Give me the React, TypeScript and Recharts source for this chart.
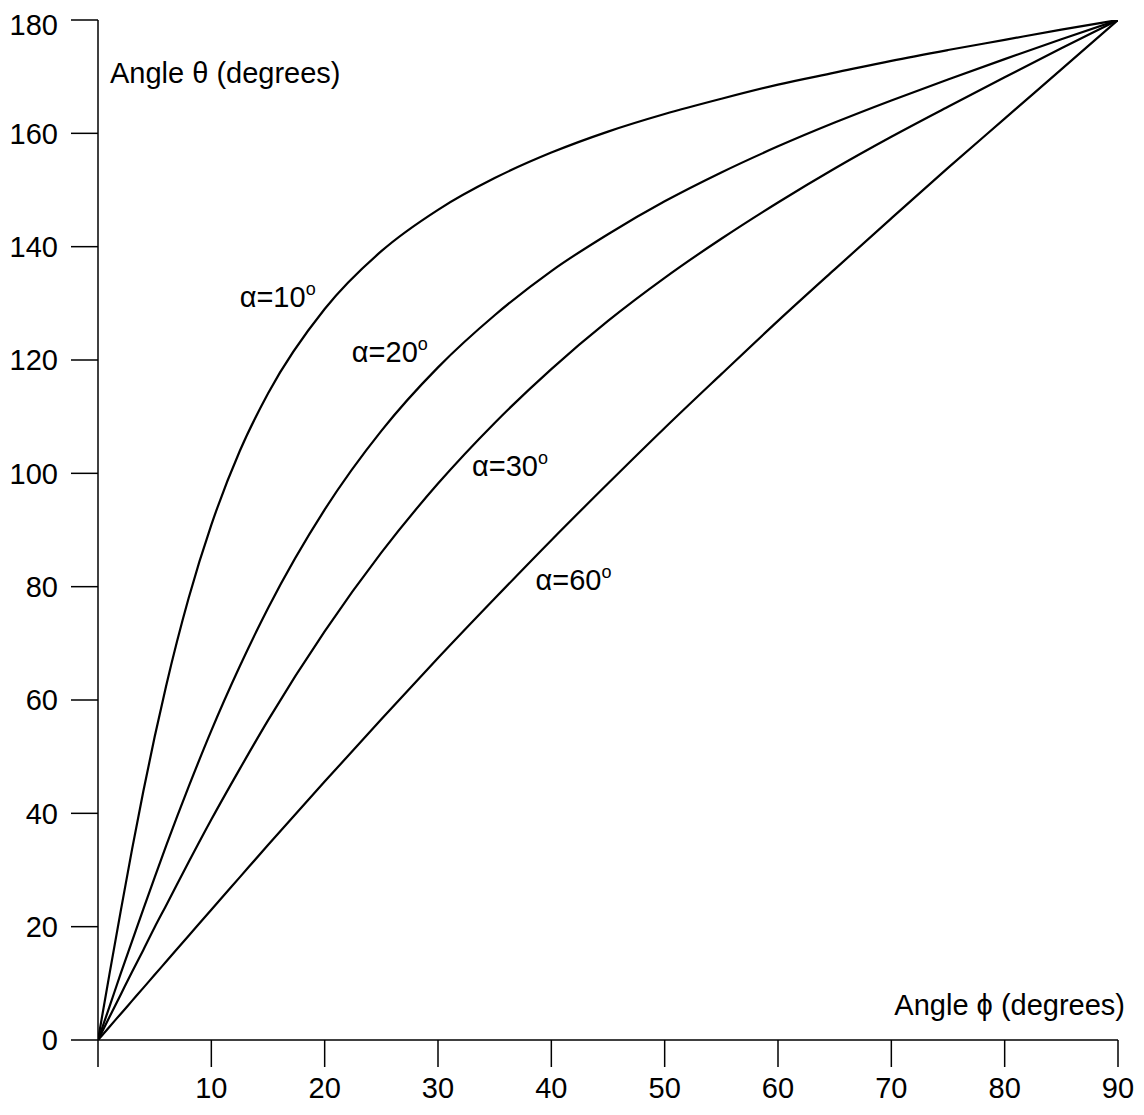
import { LineChart, Line, XAxis, YAxis, Label, ReferenceDot } from 'recharts';

// phi (degrees) sampled along the x axis
const phi = [0, 1, 2, 3, 4, 5, 6, 8, 10, 12.5, 15, 20, 25, 30, 35, 40, 45, 50, 55, 60, 65, 70, 75, 80, 85, 90];

// theta (degrees)
const alpha10 = [0, 11.5, 22.7, 33.6, 43.9, 53.5, 62.4, 78.0, 90.9, 103.9, 114.1, 129.0, 139.2, 146.5, 152.1, 156.6, 160.3, 163.4, 166.1, 168.6, 170.7, 172.8, 174.7, 176.5, 178.3, 180];
const alpha20 = [0, 5.8, 11.7, 17.4, 23.1, 28.7, 34.2, 44.7, 54.6, 65.9, 76.2, 93.6, 107.5, 118.7, 127.9, 135.7, 142.2, 148.0, 153.1, 157.7, 161.9, 165.8, 169.5, 173.1, 176.6, 180];
const alpha30 = [0, 4.0, 8.0, 12.0, 15.9, 19.9, 23.7, 31.4, 38.9, 47.8, 56.4, 72.1, 86.0, 98.2, 108.9, 118.4, 126.9, 134.5, 141.4, 147.8, 153.8, 159.4, 164.7, 169.9, 175.0, 180];
const alpha60 = [0, 2.3, 4.6, 6.9, 9.2, 11.5, 13.8, 18.4, 23.0, 28.7, 34.4, 45.6, 56.6, 67.4, 77.9, 88.2, 98.2, 108.0, 117.5, 126.9, 136.0, 145.0, 153.9, 162.6, 171.3, 180];

const xTicks = [0, 10, 20, 30, 40, 50, 60, 70, 80, 90];
const yTicks = [0, 20, 40, 60, 80, 100, 120, 140, 160, 180];

// curve labels: text, anchor (phi, theta)
const curveLabels = [
  { text: 'α=10', phi: 12.5, theta: 129.3 },
  { text: 'α=20', phi: 22.4, theta: 119.6 },
  { text: 'α=30', phi: 33.0, theta: 99.6 },
  { text: 'α=60', phi: 38.6, theta: 79.4 },
];

const series = [alpha10, alpha20, alpha30, alpha60].map((vals) =>
  vals.map((theta, i) => ({ phi: phi[i], theta })),
);

const FONT = '"Liberation Sans", Arial, sans-serif';
const FS = 29;
const tickStyle = { fill: '#000', fontSize: FS, fontFamily: FONT };

export default function App() {
  return (
    <div style={{ fontFamily: FONT }}>
      <LineChart width={1136} height={1107} margin={{ top: 12, right: 26, left: 0, bottom: 0 }}>
        <XAxis
          type="number"
          dataKey="phi"
          domain={[0, 90]}
          ticks={xTicks}
          tickFormatter={(v) => (v === 0 ? '' : String(v))}
          tick={tickStyle}
          tickSize={27}
          tickMargin={10}
          height={75}
          axisLine={{ stroke: '#000', strokeWidth: 1.5 }}
          tickLine={{ stroke: '#000', strokeWidth: 1.5 }}
          allowDataOverflow
        >
          <Label
            content={({ viewBox }: any) => (
              <text
                x={viewBox.x + viewBox.width + 7}
                y={viewBox.y - 25}
                textAnchor="end"
                fontSize={FS}
                fontFamily={FONT}
                fill="#000"
              >
                Angle ϕ (degrees)
              </text>
            )}
          />
        </XAxis>
        <YAxis
          type="number"
          domain={[0, 180]}
          ticks={yTicks}
          tick={tickStyle}
          tickSize={27}
          tickMargin={13}
          width={90}
          axisLine={{ stroke: '#000', strokeWidth: 1.5 }}
          tickLine={{ stroke: '#000', strokeWidth: 1.5 }}
          allowDataOverflow
        >
          <Label
            content={({ viewBox }: any) => (
              <text
                x={viewBox.x + viewBox.width + 12}
                y={viewBox.y + 63}
                textAnchor="start"
                fontSize={FS}
                fontFamily={FONT}
                fill="#000"
              >
                Angle θ (degrees)
              </text>
            )}
          />
        </YAxis>
        {series.map((data, i) => (
          <Line
            key={i}
            data={data}
            dataKey="theta"
            type="monotone"
            stroke="#000"
            strokeWidth={2.2}
            dot={false}
            activeDot={false}
            isAnimationActive={false}
          />
        ))}
        {curveLabels.map((c) => (
          <ReferenceDot
            key={c.text}
            x={c.phi}
            y={c.theta}
            r={0.01}
            fill="none"
            stroke="none"
            label={({ viewBox }: any) => (
              <text x={viewBox.x} y={viewBox.y} fontSize={FS} fontFamily={FONT} fill="#000">
                {c.text}
                <tspan dy={-12} fontSize={18}>o</tspan>
              </text>
            )}
          />
        ))}
      </LineChart>
    </div>
  );
}
